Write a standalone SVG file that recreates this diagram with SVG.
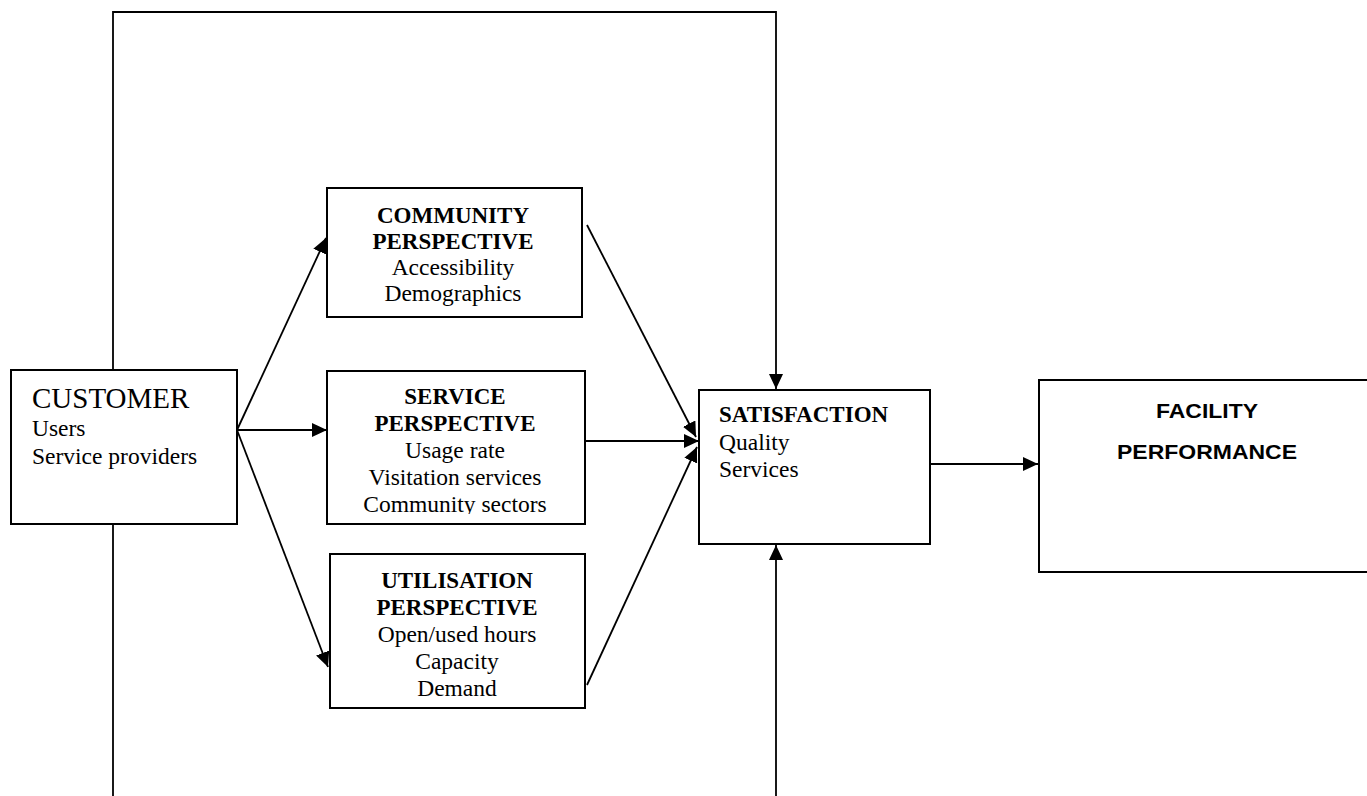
<svg xmlns="http://www.w3.org/2000/svg" width="1367" height="796" viewBox="0 0 1367 796">
  <style>
    .box { fill: #ffffff; stroke: #000000; stroke-width: 2; }
    .line { fill: none; stroke: #000000; stroke-width: 1.8; }
    .serif { font-family: "Liberation Serif", "Times New Roman", serif; fill: #000000; }
    .b { font-weight: bold; font-size: 23px; }
    .r { font-size: 23.5px; }
    .sans { font-family: "Liberation Sans", Arial, sans-serif; font-weight: bold; font-size: 20.5px; fill: #000000; }
  </style>
  <defs>
    <marker id="arrow" markerUnits="userSpaceOnUse" markerWidth="16" markerHeight="15" refX="15" refY="7" orient="auto">
      <path d="M0,0 L15,7 L0,14 Z" fill="#000000"/>
    </marker>
    <clipPath id="svcClip">
      <rect x="327" y="371" width="258" height="143"/>
    </clipPath>
  </defs>
  <rect width="1367" height="796" fill="#ffffff"/>

  <g id="connectors">
    <path class="line" d="M113,370 V12 H776 V389" marker-end="url(#arrow)"/>
    <path class="line" d="M113,524 V796"/>
    <path class="line" d="M776,796 V545" marker-end="url(#arrow)"/>
    <path class="line" d="M237,430 L326,238" marker-end="url(#arrow)"/>
    <path class="line" d="M237,430 H327" marker-end="url(#arrow)"/>
    <path class="line" d="M237,430 L328,667" marker-end="url(#arrow)"/>
    <path class="line" d="M587,225 L696,437" marker-end="url(#arrow)"/>
    <path class="line" d="M585,441 H699" marker-end="url(#arrow)"/>
    <path class="line" d="M587,685 L697,447" marker-end="url(#arrow)"/>
    <path class="line" d="M930,464 H1038" marker-end="url(#arrow)"/>
  </g>

  <g id="customer">
    <rect class="box" x="11" y="370" width="226" height="154"/>
    <text class="serif" x="32" y="408" font-size="29">CUSTOMER</text>
    <text class="serif r" x="32" y="436">Users</text>
    <text class="serif r" x="32" y="464">Service providers</text>
  </g>

  <g id="community">
    <rect class="box" x="327" y="188" width="255" height="129"/>
    <g text-anchor="middle">
      <text class="serif b" x="453" y="223">COMMUNITY</text>
      <text class="serif b" x="453" y="249">PERSPECTIVE</text>
      <text class="serif r" x="453" y="275">Accessibility</text>
      <text class="serif r" x="453" y="301">Demographics</text>
    </g>
  </g>

  <g id="service">
    <rect class="box" x="327" y="371" width="258" height="153"/>
    <g text-anchor="middle">
      <text class="serif b" x="455" y="404">SERVICE</text>
      <text class="serif b" x="455" y="431">PERSPECTIVE</text>
      <text class="serif r" x="455" y="458">Usage rate</text>
      <text class="serif r" x="455" y="485">Visitation services</text>
      <text class="serif r" x="455" y="512" clip-path="url(#svcClip)">Community sectors</text>
    </g>
  </g>

  <g id="utilisation">
    <rect class="box" x="330" y="554" width="255" height="154"/>
    <g text-anchor="middle">
      <text class="serif b" x="457" y="588">UTILISATION</text>
      <text class="serif b" x="457" y="615">PERSPECTIVE</text>
      <text class="serif r" x="457" y="642">Open/used hours</text>
      <text class="serif r" x="457" y="669">Capacity</text>
      <text class="serif r" x="457" y="696">Demand</text>
    </g>
  </g>

  <g id="satisfaction">
    <rect class="box" x="699" y="390" width="231" height="154"/>
    <text class="serif b" x="719" y="422">SATISFACTION</text>
    <text class="serif r" x="719" y="450">Quality</text>
    <text class="serif r" x="719" y="477">Services</text>
  </g>

  <g id="facility">
    <rect class="box" x="1039" y="380" width="340" height="192"/>
    <g text-anchor="middle">
      <text class="sans" x="1207" y="418" textLength="102" lengthAdjust="spacingAndGlyphs">FACILITY</text>
      <text class="sans" x="1207" y="459" textLength="180" lengthAdjust="spacingAndGlyphs">PERFORMANCE</text>
    </g>
  </g>
</svg>
